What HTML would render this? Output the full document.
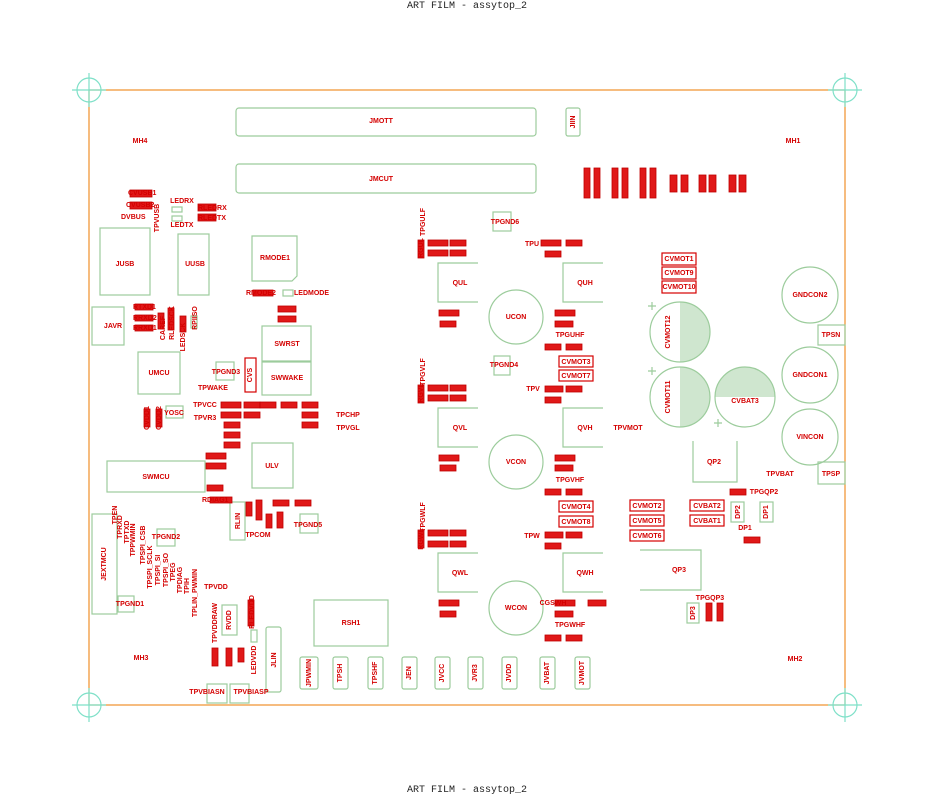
<!DOCTYPE html>
<html><head><meta charset="utf-8"><style>
html,body{margin:0;padding:0;background:#fff}
svg{display:block}
.g{fill:none;stroke:#9ccc9c;stroke-width:1.2}
.t{font-family:"Liberation Sans",sans-serif;font-weight:bold;font-size:7px;fill:#d40000;text-anchor:middle;dominant-baseline:middle}
.tl{font-family:"Liberation Sans",sans-serif;font-weight:bold;font-size:7px;fill:#d40000;text-anchor:start;dominant-baseline:middle}
.rb{fill:#e01818;stroke:#c00000;stroke-width:0.8}
.rt{font-family:"Liberation Sans",sans-serif;font-weight:bold;font-size:6px;fill:#fbb;text-anchor:middle;dominant-baseline:middle}
.ro{fill:none;stroke:#d40000;stroke-width:1.2}
.title{font-family:"Liberation Mono",monospace;font-size:10px;fill:#222;text-anchor:middle}
.cx{fill:none;stroke:#7ee0c8;stroke-width:1.2}
</style></head><body>
<svg width="934" height="799" viewBox="0 0 934 799" xmlns="http://www.w3.org/2000/svg">
<text class="title" x="467" y="8">ART FILM - assytop_2</text>
<text class="title" x="467" y="792">ART FILM - assytop_2</text>
<!-- frame -->
<rect x="89" y="90" width="756" height="615" fill="none" stroke="#f0902a" stroke-width="1.2"/>
<g class="cx">
<circle cx="89" cy="90" r="12"/><line x1="72" y1="90" x2="106" y2="90"/><line x1="89" y1="73" x2="89" y2="107"/>
<circle cx="845" cy="90" r="12"/><line x1="828" y1="90" x2="862" y2="90"/><line x1="845" y1="73" x2="845" y2="107"/>
<circle cx="89" cy="705" r="12"/><line x1="72" y1="705" x2="106" y2="705"/><line x1="89" y1="688" x2="89" y2="722"/>
<circle cx="845" cy="705" r="12"/><line x1="828" y1="705" x2="862" y2="705"/><line x1="845" y1="688" x2="845" y2="722"/>
</g>
<!-- green outlines -->
<g class="g">
<rect x="236" y="108" width="300" height="28" rx="3"/>
<rect x="566" y="108" width="14" height="28" rx="2"/>
<rect x="236" y="164" width="300" height="29" rx="3"/>
<rect x="100" y="228" width="50" height="67"/>
<rect x="178" y="234" width="31" height="61"/>
<path d="M252 236 H297 V276 L292 281 H252 Z"/>
<rect x="92" y="307" width="32" height="38"/>
<rect x="138" y="352" width="42" height="42"/>
<rect x="262" y="326" width="49" height="35"/>
<rect x="262" y="362" width="49" height="33"/>
<rect x="216" y="362" width="18" height="18"/>
<rect x="107" y="461" width="98" height="31"/>
<rect x="252" y="443" width="41" height="45"/>
<rect x="92" y="514" width="25" height="100"/>
<rect x="118" y="596" width="16" height="16"/>
<rect x="157" y="529" width="18" height="17"/>
<rect x="230" y="502" width="15" height="38"/>
<rect x="300" y="514" width="18" height="19"/>
<rect x="314" y="600" width="74" height="46"/>
<rect x="222" y="605" width="15" height="30"/>
<rect x="266" y="627" width="15" height="65" rx="2"/>
<rect x="300" y="657" width="18" height="32" rx="2"/>
<rect x="333" y="657" width="15" height="32" rx="2"/>
<rect x="368" y="657" width="15" height="32" rx="2"/>
<rect x="402" y="657" width="15" height="32" rx="2"/>
<rect x="435" y="657" width="15" height="32" rx="2"/>
<rect x="468" y="657" width="15" height="32" rx="2"/>
<rect x="502" y="657" width="15" height="32" rx="2"/>
<rect x="540" y="657" width="15" height="32" rx="2"/>
<rect x="575" y="657" width="15" height="32" rx="2"/>
<rect x="207" y="684" width="20" height="19"/>
<rect x="230" y="684" width="19" height="19"/>
<rect x="166" y="406" width="17" height="12"/>
<path d="M478 263 H438 V302 H478"/><path d="M603 263 H563 V302 H603"/>
<path d="M478 408 H438 V447 H478"/><path d="M603 408 H563 V447 H603"/>
<path d="M478 553 H438 V592 H478"/><path d="M603 553 H563 V592 H603"/>
<circle cx="516" cy="317" r="27"/><circle cx="516" cy="462" r="27"/><circle cx="516" cy="608" r="27"/>
<rect x="493" y="212" width="18" height="19"/><rect x="494" y="356" width="16" height="19"/>
<circle cx="810" cy="295" r="28"/><circle cx="810" cy="375" r="28"/><circle cx="810" cy="437" r="28"/>
<rect x="818" y="325" width="27" height="20"/><rect x="818" y="462" width="27" height="22"/>
<path d="M737 441 V482 H693 V441"/>
<path d="M640 550 H701 V590 H640"/>
<rect x="731" y="502" width="13" height="20"/><rect x="760" y="502" width="13" height="20"/>
<rect x="687" y="603" width="12" height="20"/>
<rect x="172" y="207" width="10" height="5"/><rect x="172" y="216" width="10" height="5"/>
<rect x="283" y="290" width="10" height="6"/>
<rect x="191" y="316" width="6" height="12"/>
<rect x="251" y="630" width="6" height="12"/>
</g>
<!-- capacitors -->
<path d="M680 302 A30 30 0 0 1 680 362 Z" fill="#cfe6cf"/>
<circle class="g" cx="680" cy="332" r="30"/>
<path d="M680 367 A30 30 0 0 1 680 427 Z" fill="#cfe6cf"/>
<circle class="g" cx="680" cy="397" r="30"/>
<path d="M715 397 A30 30 0 0 1 775 397 Z" fill="#cfe6cf"/>
<circle class="g" cx="745" cy="397" r="30"/>
<g class="g"><path d="M648 306 h8 M652 302 v8 M648 371 h8 M652 367 v8 M714 423 h8 M718 419 v8"/></g>
<!-- big labels -->
<text class="t" x="381" y="121">JMOTT</text>
<text class="t" x="573" y="122" transform="rotate(-90 573 122)">JIIN</text>
<text class="t" x="381" y="179">JMCUT</text>
<text class="t" x="140" y="141">MH4</text><text class="t" x="793" y="141">MH1</text>
<text class="t" x="141" y="658">MH3</text><text class="t" x="795" y="659">MH2</text>
<text class="t" x="125" y="264">JUSB</text><text class="t" x="195" y="264">UUSB</text>
<text class="t" x="275" y="258">RMODE1</text><text class="t" x="113" y="326">JAVR</text>
<text class="t" x="159" y="373">UMCU</text><text class="t" x="287" y="344">SWRST</text>
<text class="t" x="287" y="378">SWWAKE</text><text class="t" x="226" y="372">TPGND3</text>
<text class="t" x="156" y="477">SWMCU</text><text class="t" x="272" y="466">ULV</text>
<text class="t" x="104" y="564" transform="rotate(-90 104 564)">JEXTMCU</text>
<text class="t" x="130" y="604">TPGND1</text><text class="t" x="166" y="537">TPGND2</text>
<text class="t" x="238" y="521" transform="rotate(-90 238 521)">RLIN</text>
<text class="t" x="308" y="525">TPGND5</text><text class="t" x="351" y="623">RSH1</text>
<text class="t" x="229" y="620" transform="rotate(-90 229 620)">RVDD</text>
<text class="t" x="274" y="660" transform="rotate(-90 274 660)">JLIN</text>
<text class="t" x="309" y="673" transform="rotate(-90 309 673)">JPWMIN</text>
<text class="t" x="340" y="673" transform="rotate(-90 340 673)">TPSH</text>
<text class="t" x="375" y="673" transform="rotate(-90 375 673)">TPSHF</text>
<text class="t" x="409" y="673" transform="rotate(-90 409 673)">JEN</text>
<text class="t" x="442" y="673" transform="rotate(-90 442 673)">JVCC</text>
<text class="t" x="475" y="673" transform="rotate(-90 475 673)">JVR3</text>
<text class="t" x="509" y="673" transform="rotate(-90 509 673)">JVDD</text>
<text class="t" x="547" y="673" transform="rotate(-90 547 673)">JVBAT</text>
<text class="t" x="582" y="673" transform="rotate(-90 582 673)">JVMOT</text>
<text class="t" x="207" y="692">TPVBIASN</text><text class="t" x="251" y="692">TPVBIASP</text>
<text class="t" x="460" y="283">QUL</text><text class="t" x="585" y="283">QUH</text>
<text class="t" x="460" y="428">QVL</text><text class="t" x="585" y="428">QVH</text>
<text class="t" x="460" y="573">QWL</text><text class="t" x="585" y="573">QWH</text>
<text class="t" x="516" y="317">UCON</text><text class="t" x="516" y="462">VCON</text><text class="t" x="516" y="608">WCON</text>
<text class="t" x="505" y="222">TPGND6</text><text class="t" x="504" y="365">TPGND4</text>
<text class="t" x="668" y="332" transform="rotate(-90 668 332)">CVMOT12</text>
<text class="t" x="668" y="397" transform="rotate(-90 668 397)">CVMOT11</text>
<text class="t" x="745" y="401">CVBAT3</text>
<text class="t" x="810" y="295">GNDCON2</text><text class="t" x="810" y="375">GNDCON1</text><text class="t" x="810" y="437">VINCON</text>
<text class="t" x="831" y="335">TPSN</text><text class="t" x="831" y="474">TPSP</text>
<text class="t" x="714" y="462">QP2</text><text class="t" x="679" y="570">QP3</text>
<text class="t" x="738" y="512" transform="rotate(-90 738 512)">DP2</text>
<text class="t" x="766" y="512" transform="rotate(-90 766 512)">DP1</text>
<text class="t" x="693" y="613" transform="rotate(-90 693 613)">DP3</text>
<text class="t" x="745" y="528">DP1</text>
<!-- outlined red boxes -->
<g class="ro">
<rect x="662" y="253" width="34" height="12"/><rect x="662" y="267" width="34" height="12"/><rect x="662" y="281" width="34" height="12"/>
<rect x="559" y="356" width="34" height="11"/><rect x="559" y="370" width="34" height="11"/>
<rect x="559" y="501" width="34" height="11"/><rect x="559" y="516" width="34" height="11"/>
<rect x="630" y="500" width="34" height="11"/><rect x="630" y="515" width="34" height="11"/><rect x="630" y="530" width="34" height="11"/>
<rect x="690" y="500" width="34" height="11"/><rect x="690" y="515" width="34" height="11"/>
<rect x="245" y="358" width="11" height="34"/>
</g>
<text class="t" x="679" y="259">CVMOT1</text><text class="t" x="679" y="273">CVMOT9</text><text class="t" x="679" y="287">CVMOT10</text>
<text class="t" x="576" y="362">CVMOT3</text><text class="t" x="576" y="376">CVMOT7</text>
<text class="t" x="576" y="507">CVMOT4</text><text class="t" x="576" y="522">CVMOT8</text>
<text class="t" x="647" y="506">CVMOT2</text><text class="t" x="647" y="521">CVMOT5</text><text class="t" x="647" y="536">CVMOT6</text>
<text class="t" x="707" y="506">CVBAT2</text><text class="t" x="707" y="521">CVBAT1</text>
<text class="t" x="250" y="375" transform="rotate(-90 250 375)">CVS</text>
<!-- filled red small parts -->
<g class="rb">
<rect x="130" y="190" width="22" height="7"/><rect x="130" y="202" width="22" height="7"/>
<rect x="198" y="204" width="18" height="7"/><rect x="198" y="214" width="18" height="7"/>
<rect x="253" y="290" width="20" height="6"/>
<rect x="278" y="306" width="18" height="6"/><rect x="278" y="316" width="18" height="6"/>
<rect x="135" y="304" width="18" height="6"/><rect x="135" y="315" width="18" height="6"/><rect x="135" y="325" width="18" height="6"/>
<rect x="158" y="313" width="6" height="16"/><rect x="168" y="308" width="6" height="22"/><rect x="180" y="316" width="6" height="16"/>
<rect x="221" y="402" width="20" height="6"/><rect x="221" y="412" width="20" height="6"/><rect x="224" y="422" width="16" height="6"/>
<rect x="224" y="432" width="16" height="6"/><rect x="224" y="442" width="16" height="6"/>
<rect x="244" y="402" width="16" height="6"/><rect x="244" y="412" width="16" height="6"/>
<rect x="260" y="402" width="16" height="6"/><rect x="281" y="402" width="16" height="6"/><rect x="302" y="402" width="16" height="6"/>
<rect x="302" y="412" width="16" height="6"/><rect x="302" y="422" width="16" height="6"/>
<rect x="144" y="409" width="6" height="18"/><rect x="156" y="409" width="6" height="18"/>
<rect x="206" y="453" width="20" height="6"/><rect x="206" y="463" width="20" height="6"/>
<rect x="207" y="485" width="16" height="6"/><rect x="210" y="497" width="22" height="6"/>
<rect x="246" y="502" width="6" height="14"/><rect x="256" y="500" width="6" height="20"/><rect x="266" y="514" width="6" height="14"/><rect x="277" y="512" width="6" height="16"/>
<rect x="273" y="500" width="16" height="6"/><rect x="295" y="500" width="16" height="6"/>
<rect x="248" y="600" width="6" height="26"/>
<rect x="212" y="648" width="6" height="18"/><rect x="226" y="648" width="6" height="18"/><rect x="238" y="648" width="6" height="14"/>
<rect x="418" y="240" width="6" height="18"/><rect x="428" y="240" width="20" height="6"/><rect x="450" y="240" width="16" height="6"/>
<rect x="428" y="250" width="20" height="6"/><rect x="450" y="250" width="16" height="6"/>
<rect x="541" y="240" width="20" height="6"/><rect x="566" y="240" width="16" height="6"/><rect x="545" y="251" width="16" height="6"/>
<rect x="439" y="310" width="20" height="6"/><rect x="440" y="321" width="16" height="6"/>
<rect x="555" y="310" width="20" height="6"/><rect x="555" y="321" width="18" height="6"/>
<rect x="545" y="344" width="16" height="6"/><rect x="566" y="344" width="16" height="6"/>
<rect x="418" y="385" width="6" height="18"/><rect x="428" y="385" width="20" height="6"/><rect x="450" y="385" width="16" height="6"/>
<rect x="428" y="395" width="20" height="6"/><rect x="450" y="395" width="16" height="6"/>
<rect x="545" y="386" width="18" height="6"/><rect x="566" y="386" width="16" height="6"/><rect x="545" y="397" width="16" height="6"/>
<rect x="439" y="455" width="20" height="6"/><rect x="440" y="465" width="16" height="6"/>
<rect x="555" y="455" width="20" height="6"/><rect x="555" y="465" width="18" height="6"/>
<rect x="545" y="489" width="16" height="6"/><rect x="566" y="489" width="16" height="6"/>
<rect x="418" y="530" width="6" height="18"/><rect x="428" y="530" width="20" height="6"/><rect x="450" y="530" width="16" height="6"/>
<rect x="428" y="541" width="20" height="6"/><rect x="450" y="541" width="16" height="6"/>
<rect x="545" y="532" width="18" height="6"/><rect x="566" y="532" width="16" height="6"/><rect x="545" y="543" width="16" height="6"/>
<rect x="439" y="600" width="20" height="6"/><rect x="440" y="611" width="16" height="6"/>
<rect x="555" y="600" width="20" height="6"/><rect x="555" y="611" width="18" height="6"/><rect x="588" y="600" width="18" height="6"/>
<rect x="545" y="635" width="16" height="6"/><rect x="566" y="635" width="16" height="6"/>
<rect x="584" y="168" width="6" height="30"/><rect x="594" y="168" width="6" height="30"/>
<rect x="612" y="168" width="6" height="30"/><rect x="622" y="168" width="6" height="30"/>
<rect x="640" y="168" width="6" height="30"/><rect x="650" y="168" width="6" height="30"/>
<rect x="670" y="175" width="7" height="17"/><rect x="681" y="175" width="7" height="17"/>
<rect x="699" y="175" width="7" height="17"/><rect x="709" y="175" width="7" height="17"/>
<rect x="729" y="175" width="7" height="17"/><rect x="739" y="175" width="7" height="17"/>
<rect x="730" y="489" width="16" height="6"/><rect x="744" y="537" width="16" height="6"/>
<rect x="706" y="603" width="6" height="18"/><rect x="717" y="603" width="6" height="18"/>
</g>
<!-- small labels -->
<g>
<text class="tl" x="128" y="193">CVUSB1</text><text class="tl" x="126" y="205">CVUSB2</text>
<text class="tl" x="121" y="217">DVBUS</text>
<text class="t" x="182" y="201">LEDRX</text><text class="t" x="182" y="225">LEDTX</text>
<text class="tl" x="198" y="208">RLEDRX</text><text class="tl" x="198" y="218">RLEDTX</text>
<text class="t" x="157" y="218" transform="rotate(-90 157 218)">TPVUSB</text>
<text class="tl" x="246" y="293">RMODE2</text><text class="tl" x="294" y="293">LEDMODE</text>
<text class="tl" x="133" y="307">RTXD1</text><text class="tl" x="133" y="318">RRXD2</text><text class="tl" x="133" y="328">RRXD1</text>
<text class="t" x="163" y="328" transform="rotate(-90 163 328)">CAREF</text>
<text class="t" x="172" y="323" transform="rotate(-90 172 323)">RLEDSCK</text>
<text class="t" x="183" y="337" transform="rotate(-90 183 337)">LEDSCK</text>
<text class="t" x="195" y="318" transform="rotate(-90 195 318)">RPIISO</text>
<text class="t" x="213" y="388">TPWAKE</text>
<text class="t" x="205" y="405">TPVCC</text><text class="t" x="205" y="418">TPVR3</text>
<text class="t" x="348" y="415">TPCHP</text><text class="t" x="348" y="428">TPVGL</text>
<text class="t" x="174" y="413">YOSC</text>
<text class="t" x="147" y="418" transform="rotate(-90 147 418)">CVDD1</text>
<text class="t" x="159" y="418" transform="rotate(-90 159 418)">CVDD2</text>
<text class="tl" x="202" y="500">RDIAG1</text>
<text class="t" x="258" y="535">TPCOM</text>
<text class="t" x="216" y="587">TPVDD</text>
<text class="t" x="215" y="623" transform="rotate(-90 215 623)">TPVDDRAW</text>
<text class="t" x="252" y="612" transform="rotate(-90 252 612)">RLEDVDD</text>
<text class="t" x="254" y="660" transform="rotate(-90 254 660)">LEDVDD</text>
<text class="t" x="115" y="515" transform="rotate(-90 115 515)">TPEN</text>
<text class="t" x="120" y="527" transform="rotate(-90 120 527)">TPRXD</text>
<text class="t" x="127" y="532" transform="rotate(-90 127 532)">TPTXD</text>
<text class="t" x="133" y="540" transform="rotate(-90 133 540)">TPPWMIN</text>
<text class="t" x="143" y="545" transform="rotate(-90 143 545)">TPSPI_CSB</text>
<text class="t" x="150" y="567" transform="rotate(-90 150 567)">TPSPI_SCLK</text>
<text class="t" x="158" y="570" transform="rotate(-90 158 570)">TPSPI_SI</text>
<text class="t" x="166" y="570" transform="rotate(-90 166 570)">TPSPI_SO</text>
<text class="t" x="173" y="572" transform="rotate(-90 173 572)">TPEG</text>
<text class="t" x="180" y="580" transform="rotate(-90 180 580)">TPDIAG</text>
<text class="t" x="187" y="586" transform="rotate(-90 187 586)">TPIH</text>
<text class="t" x="195" y="593" transform="rotate(-90 195 593)">TPLIN_PWMIN</text>
<text class="t" x="421" y="248" transform="rotate(-90 421 248)">RGUL</text>
<text class="t" x="423" y="222" transform="rotate(-90 423 222)">TPGULF</text>
<text class="t" x="423" y="372" transform="rotate(-90 423 372)">TPGVLF</text>
<text class="t" x="423" y="517" transform="rotate(-90 423 517)">TPGWLF</text>
<text class="t" x="421" y="393" transform="rotate(-90 421 393)">RGVL</text>
<text class="t" x="421" y="539" transform="rotate(-90 421 539)">RGWL</text>
<text class="t" x="532" y="244">TPU</text><text class="t" x="533" y="389">TPV</text><text class="t" x="532" y="536">TPW</text>
<text class="t" x="570" y="335">TPGUHF</text><text class="t" x="570" y="480">TPGVHF</text><text class="t" x="570" y="625">TPGWHF</text>
<text class="t" x="628" y="428">TPVMOT</text>
<text class="t" x="780" y="474">TPVBAT</text>
<text class="t" x="764" y="492">TPGQP2</text><text class="t" x="710" y="598">TPGQP3</text>
<text class="t" x="553" y="603">CGSWH</text>
</g>
</svg>
</body></html>
